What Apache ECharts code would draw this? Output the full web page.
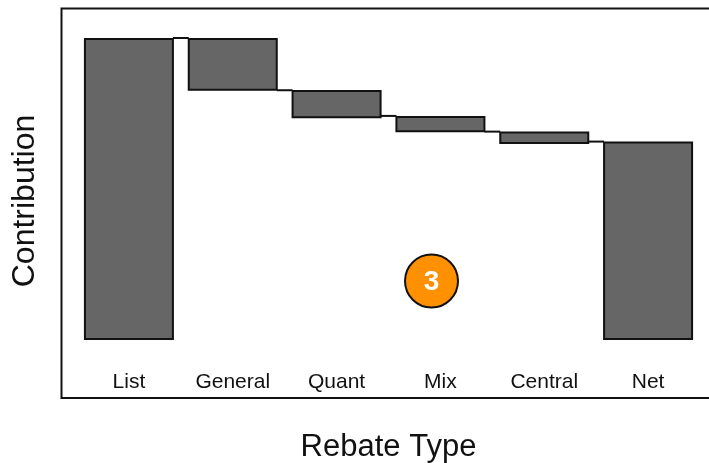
<!DOCTYPE html>
<html>
<head>
<meta charset="utf-8">
<style>
  html, body { margin: 0; padding: 0; background: #fff; }
  #chart { width: 709px; height: 463px; }
</style>
<script src="https://cdn.jsdelivr.net/npm/echarts@6/dist/echarts.min.js"></script>
</head>
<body>
<div id="chart"></div>
<script>
  let categories = ['List', 'General', 'Quant', 'Mix', 'Central', 'Net']
  // invisible part under each floating bar
  let baseValues = [0, 82.5, 73.4, 68.8, 64.9, 0]
  let barValues = [100, 17.5, 9.4, 5.4, 4.1, 65.7]
  // level of the thin line from one bar to the next
  let stepLevels = [100, 82.7, 74.2, 69, 65.7]

  let chart = echarts.init(document.getElementById('chart'))
  let fontName = '"Liberation Sans", Arial, sans-serif'

  chart.setOption({
    animation: false,
    grid: { left: 77, right: 9, top: 38, bottom: 123, outerBoundsMode: 'none' },
    xAxis: {
      type: 'category',
      data: categories,
      axisLine: { show: false },
      axisTick: { show: false },
      axisLabel: { color: '#111', fontSize: 21, fontFamily: fontName, margin: 32 },
      name: 'Rebate Type',
      nameLocation: 'middle',
      nameGap: 92,
      nameTextStyle: { color: '#111', fontSize: 31, fontFamily: fontName }
    },
    yAxis: {
      type: 'value',
      min: 0,
      max: 100,
      show: false
    },
    series: [
      {
        type: 'bar',
        stack: 'bars',
        barWidth: 90,
        silent: true,
        itemStyle: { color: 'transparent' },
        data: baseValues
      },
      {
        type: 'bar',
        stack: 'bars',
        barWidth: 90,
        itemStyle: { color: '#666666', borderColor: '#111', borderWidth: 2 },
        data: barValues
      },
      {
        type: 'custom',
        silent: true,
        data: stepLevels,
        renderItem (params, api) {
          let from = api.coord([params.dataIndex, api.value(1)])
          let to = api.coord([params.dataIndex + 1, api.value(1)])
          return {
            type: 'line',
            shape: { x1: from[0] + 44, y1: from[1], x2: to[0] - 44, y2: to[1] },
            style: { stroke: '#111', lineWidth: 2, fill: null }
          }
        }
      }
    ],
    graphic: [
      {
        type: 'polyline',
        shape: { points: [[712, 8.5], [61.5, 8.5], [61.5, 398], [712, 398]] },
        style: { stroke: '#111', lineWidth: 2, fill: null }
      },
      {
        type: 'text',
        x: 25,
        y: 201,
        rotation: Math.PI / 2,
        style: {
          text: 'Contribution',
          font: '32px ' + fontName,
          fill: '#111',
          align: 'center',
          verticalAlign: 'middle'
        }
      },
      {
        type: 'circle',
        shape: { cx: 431.5, cy: 281, r: 26.5 },
        style: { fill: '#FF9000', stroke: '#111', lineWidth: 2 }
      },
      {
        type: 'text',
        x: 431.5,
        y: 282,
        style: {
          text: '3',
          font: 'bold 28px ' + fontName,
          fill: '#fff',
          align: 'center',
          verticalAlign: 'middle'
        }
      }
    ]
  })
</script>
</body>
</html>
